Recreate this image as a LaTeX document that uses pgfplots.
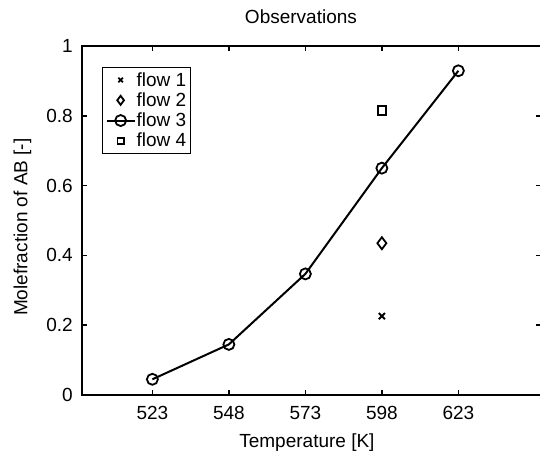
\documentclass[border=0pt]{standalone}
\usepackage{fontspec}
\setmainfont{Liberation Sans}
\usepackage{pgfplots}
\pgfplotsset{compat=1.18}
\newcommand\F{\fontsize{19}{22}\selectfont}
\begin{document}
\begin{tikzpicture}
\begin{axis}[
  scale only axis, width=459pt, height=349pt,
  xmin=500, xmax=650, ymin=0, ymax=1,
  xtick={523,548,573,598,623},
  ytick={0,0.2,0.4,0.6,0.8,1},
  /pgf/number format/assume math mode=true,
  tick align=inside, major tick length=5pt,
  axis line style={line width=1.6pt},
  every tick/.style={line width=1.5pt, black},
  xticklabel style={font=\F, inner sep=0pt, anchor=north, yshift=-10.7pt},
  yticklabel style={font=\F, inner sep=0pt, anchor=east, xshift=-9pt},
  title={Observations},
  title style={font=\F, at={(axis description cs:0.477,1.046)}, anchor=base, inner sep=0pt},
  xlabel={Temperature [K]},
  xlabel style={font=\F, at={(axis description cs:0.490,-0.149)}, anchor=base, inner sep=0pt},
  ylabel={Molefraction of AB [-]},
  ylabel style={font=\F, at={(axis description cs:-0.119,0.481)}, anchor=base, rotate=0, inner sep=0pt},
  legend style={at={(axis description cs:0.044,0.940)}, anchor=north west,
    draw=black, line width=0.9pt, font=\F, inner xsep=3pt, inner ysep=4pt,
    nodes={inner sep=1pt}, row sep=3pt, column sep=0pt},
  legend cell align=left,
  legend image code/.code={\draw[mark repeat=2,mark phase=2] plot coordinates {(0pt,0pt) (14pt,0pt) (28pt,0pt)};},
]
\addplot[black, only marks, mark=x, mark size=4.3pt, line width=1.8pt,
  legend image code/.code={\draw[mark repeat=2,mark phase=2, mark size=3.2pt] plot coordinates {(0pt,0pt) (14pt,0pt) (28pt,0pt)};}]
  coordinates {(598,0.226)};
\addlegendentry{flow 1}
\addplot[black, only marks, mark=diamond, mark size=6pt, line width=1.8pt,
  legend image code/.code={\draw[mark repeat=2,mark phase=2, mark size=4.5pt] plot coordinates {(0pt,0pt) (14pt,0pt) (28pt,0pt)};}]
  coordinates {(598,0.435)};
\addlegendentry{flow 2}
\addplot[black, mark=o, mark size=5.5pt, line width=2pt, mark options={line width=1.8pt}]
  coordinates {(523,0.045) (548,0.145) (573,0.347) (598,0.650) (623,0.929)};
\addlegendentry{flow 3}
\addplot[black, only marks, mark=square, mark size=4.2pt, line width=1.8pt,
  legend image code/.code={\draw[mark repeat=2,mark phase=2, mark size=3.2pt] plot coordinates {(0pt,0pt) (14pt,0pt) (28pt,0pt)};}]
  coordinates {(598,0.815)};
\addlegendentry{flow 4}
\end{axis}
\pgfresetboundingbox
\path[use as bounding box] (-82pt,-59pt) rectangle (458pt,395pt);
\end{tikzpicture}
\end{document}
